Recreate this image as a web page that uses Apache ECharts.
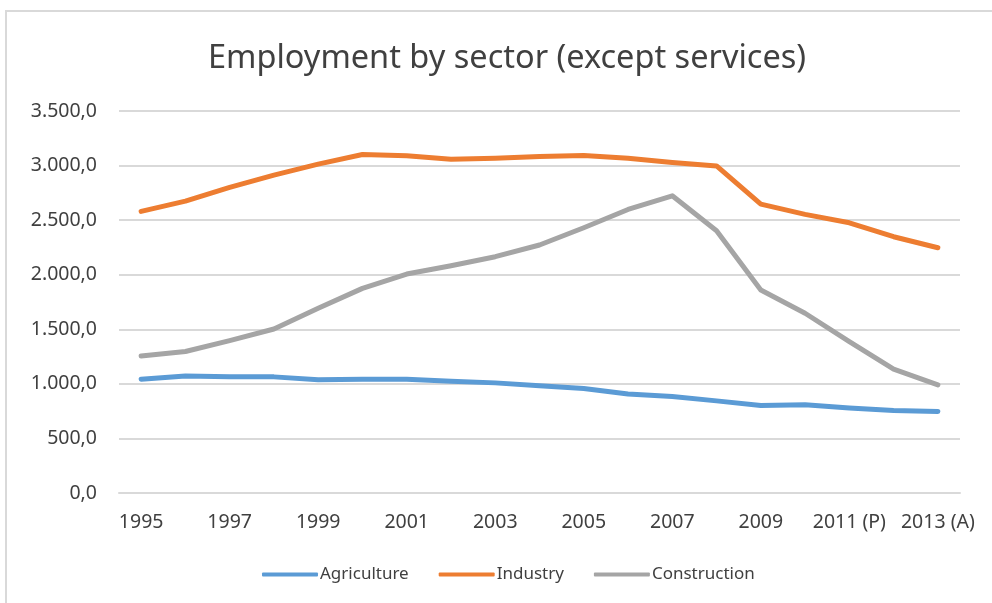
<!DOCTYPE html>
<html><head><meta charset="utf-8">
<script src="https://cdn.jsdelivr.net/npm/echarts@6/dist/echarts.min.js"></script>
<style>
html,body{margin:0;padding:0;background:#fff;}
#frame{position:absolute;left:5px;top:10px;width:1100px;height:700px;border-left:2px solid #d9d9d9;border-top:2px solid #d9d9d9;}
#chart{position:absolute;left:0;top:0;width:992px;height:603px;}
</style></head>
<body>
<div id="frame"></div>
<div id="chart"></div>
<script>
const categories = ['1995','1996','1997','1998','1999','2000','2001','2002','2003','2004','2005','2006','2007','2008','2009','2010','2011 (P)','2012 (P)','2013 (A)'];
const agriculture = [1043,1073,1064,1064,1037,1043,1043,1025,1009,982,957,908,884,844,802,808,778,756,747];
const industry = [2580,2674,2800,2912,3013,3101,3089,3059,3068,3083,3092,3068,3028,2997,2647,2553,2476,2348,2247];
const construction = [1256,1296,1396,1503,1692,1875,2006,2082,2165,2272,2430,2598,2723,2403,1860,1647,1387,1134,991];
const seriesNames = ['Agriculture','Industry','Construction'];
const colors = ['#5b9bd5','#ed7d31','#a5a5a5'];

function fmt(v){
  const s = Math.round(v).toString().replace(/\B(?=(\d{3})+(?!\d))/g,'.');
  return s + ',0';
}
const chart = echarts.init(document.getElementById('chart'), null, {renderer:'canvas'});
const font = '"Noto Sans", sans-serif';
const dataSets = [agriculture, industry, construction];
chart.setOption({
  animation:false,
  backgroundColor:'transparent',
  title:{text:'Employment by sector (except services)',left:502,textAlign:'center',top:37,
    textStyle:{fontFamily:font,fontSize:32.5,fontWeight:'normal',color:'#404040'}},
  grid:{left:119,right:32,top:111,bottom:110,containLabel:false},
  legend:{bottom:15,left:257,itemWidth:56,itemHeight:4,itemGap:30,
    icon:'roundRect',
    textStyle:{fontFamily:font,fontSize:17,color:'#404040',padding:[0,0,0,-3]},
    data:seriesNames},
  xAxis:{type:'category',data:categories,boundaryGap:true,
    axisLine:{show:true,lineStyle:{color:'#d9d9d9',width:2}},
    axisTick:{show:false},
    axisLabel:{interval:1,fontFamily:font,fontSize:19.5,color:'#404040',margin:19}},
  yAxis:{type:'value',min:0,max:3500,interval:500,
    axisLine:{show:false},axisTick:{show:false},
    splitLine:{lineStyle:{color:'#d9d9d9',width:2}},
    axisLabel:{formatter:fmt,fontFamily:font,fontSize:19.5,color:'#404040',margin:22}},
  series: seriesNames.map((n,i)=>({
    name:n,type:'line',data:dataSets[i],showSymbol:false,symbol:'none',
    lineStyle:{color:colors[i],width:5,cap:'round',join:'round'},
    itemStyle:{color:colors[i]}
  }))
});
</script>
</body></html>
